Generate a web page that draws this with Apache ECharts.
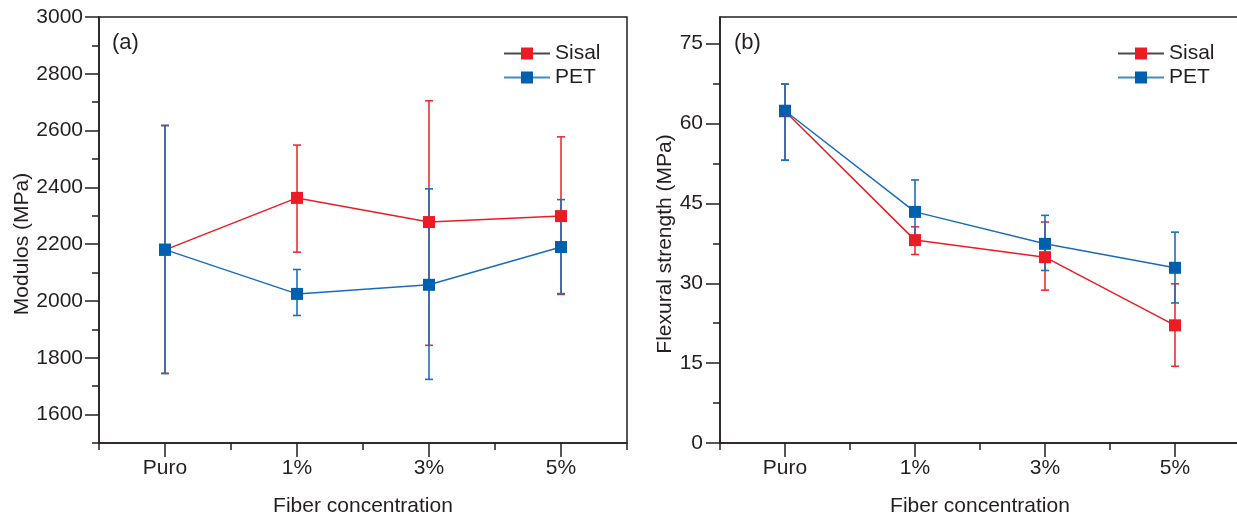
<!DOCTYPE html>
<html>
<head>
<meta charset="utf-8">
<script src="https://cdn.jsdelivr.net/npm/echarts@6/dist/echarts.min.js"></script>
<style>html,body{margin:0;padding:0;background:#fff;}#c{width:1237px;height:515px;}</style>
</head>
<body>
<div id="c"></div>
<script>
// ---- data ----
const categories = ['Puro', '1%', '3%', '5%'];
// (a) Modulus (MPa)
const modSisal = [2180, 2363, 2278, 2299];
const modSisalLow = [1745, 2172, 1844, 2023];
const modSisalHigh = [2618, 2549, 2705, 2578];
const modPet = [2181, 2025, 2057, 2190];
const modPetLow = [1745, 1949, 1724, 2026];
const modPetHigh = [2618, 2111, 2395, 2357];
// (b) Flexural strength (MPa)
const flexSisal = [62.3, 38.1, 34.9, 22.1];
const flexSisalLow = [53.1, 35.4, 28.7, 14.4];
const flexSisalHigh = [67.4, 40.6, 41.5, 29.9];
const flexPet = [62.4, 43.4, 37.4, 32.9];
const flexPetLow = [53.1, 37.4, 32.4, 26.3];
const flexPetHigh = [67.4, 49.4, 42.75, 39.6];
// ticks
const modMajorTicks = [1600, 1800, 2000, 2200, 2400, 2600, 2800, 3000];
const modMinorTicks = [1500, 1600, 1700, 1800, 1900, 2000, 2100, 2200, 2300, 2400, 2500, 2600, 2700, 2800, 2900, 3000];
const flexMajorTicks = [0, 15, 30, 45, 60, 75];
const flexMinorTicks = [0, 7.5, 15, 22.5, 30, 37.5, 45, 52.5, 60, 67.5, 75];

// ---- style ----
const FONT = '"Liberation Sans", Arial, Helvetica, sans-serif';
const INK = '#231f20';
const RED = '#ed1c24';
const RED_ERR = '#ee2d33';
const BLUE = '#0060ae';
const BLUE_LINE = '#1a6cba';
const BLUE_ERR = '#1f6fb8';

function errSeries(name, xi, yi, low, high, color) {
  return {
    type: 'custom', name: name, xAxisIndex: xi, yAxisIndex: yi,
    data: categories.map((c, i) => [i, low[i], high[i]]),
    renderItem: function (params, api) {
      const i = api.value(0);
      const lo = api.coord([i, api.value(1)]);
      const hi = api.coord([i, api.value(2)]);
      const hw = 4;
      const st = { stroke: color, lineWidth: 1.6 };
      return {
        type: 'group',
        children: [
          { type: 'line', shape: { x1: lo[0], y1: lo[1], x2: hi[0], y2: hi[1] }, style: st },
          { type: 'line', shape: { x1: hi[0] - hw, y1: hi[1], x2: hi[0] + hw, y2: hi[1] }, style: st },
          { type: 'line', shape: { x1: lo[0] - hw, y1: lo[1], x2: lo[0] + hw, y2: lo[1] }, style: st }
        ]
      };
    },
    silent: true
  };
}

function lineSeries(name, xi, yi, vals, color, lineColor) {
  return {
    type: 'line', name: name, xAxisIndex: xi, yAxisIndex: yi,
    data: vals, symbol: 'rect', symbolSize: 12,
    itemStyle: { color: color },
    lineStyle: { color: lineColor, width: 1.5 },
    emphasis: { disabled: true }, animation: false
  };
}

function catAxes(gi) {
  return [
    { type: 'category', gridIndex: gi, data: categories, boundaryGap: true, position: 'bottom',
      axisLine: { show: true, onZero: false, lineStyle: { color: INK, width: 1.5 } },
      axisTick: { show: true, length: 7, lineStyle: { color: INK, width: 1.5 } },
      axisLabel: { show: false }, splitLine: { show: false } },
    { type: 'category', gridIndex: gi, data: categories, boundaryGap: true, position: 'bottom',
      axisLine: { show: false, onZero: false },
      axisTick: { show: true, alignWithLabel: true, length: 14, lineStyle: { color: INK, width: 1.5 } },
      axisLabel: { show: true, margin: 15, fontSize: 21, color: INK, fontFamily: FONT },
      name: 'Fiber concentration', nameLocation: 'middle', nameGap: 53,
      nameTextStyle: { fontSize: 21, color: INK, fontFamily: FONT },
      splitLine: { show: false } }
  ];
}

function valAxes(gi, min, max, minor, major, name, nameGap, labelMargin) {
  return [
    { type: 'value', gridIndex: gi, min: min, max: max, position: 'left',
      axisLine: { show: true, onZero: false, lineStyle: { color: INK, width: 1.5 } },
      axisTick: { show: true, length: 7, customValues: minor, lineStyle: { color: INK, width: 1.5 } },
      axisLabel: { show: false }, splitLine: { show: false } },
    { type: 'value', gridIndex: gi, min: min, max: max, position: 'left',
      axisLine: { show: false, onZero: false },
      axisTick: { show: true, length: 14, customValues: major, lineStyle: { color: INK, width: 1.5 } },
      axisLabel: { show: true, customValues: major, margin: labelMargin, fontSize: 21, color: INK, fontFamily: FONT,
        formatter: function (v) { return String(v); } },
      name: name, nameLocation: 'middle', nameGap: nameGap,
      nameTextStyle: { fontSize: 21, color: INK, fontFamily: FONT, padding: [0, 28, 0, 0] },
      splitLine: { show: false } }
  ];
}

function legendFor(left, top) {
  return {
    left: left, top: top, orient: 'vertical', itemWidth: 46, itemHeight: 15, itemGap: 3,
    padding: 0, selectedMode: false,
    textStyle: { fontSize: 21, color: INK, fontFamily: FONT },
    data: [
      { name: 'Sisal', lineStyle: { color: '#4a4a4a' } },
      { name: 'PET', lineStyle: { color: '#3d8ccc' } }
    ]
  };
}

const chart = echarts.init(document.getElementById('c'), null, { renderer: 'canvas' });
chart.setOption({
  animation: false,
  backgroundColor: '#fff',
  textStyle: { fontFamily: FONT },
  title: [
    { text: '(a)', left: 112, top: 32, padding: 0, textStyle: { fontSize: 22, fontWeight: 'normal', color: INK, fontFamily: FONT } },
    { text: '(b)', left: 734, top: 32, padding: 0, textStyle: { fontSize: 22, fontWeight: 'normal', color: INK, fontFamily: FONT } }
  ],
  grid: [
    { left: 99, top: 17, width: 528, height: 426, outerBoundsMode: 'none', containLabel: false,
      show: true, borderColor: INK, borderWidth: 1.5, backgroundColor: 'transparent' },
    { left: 720, top: 17, width: 520, height: 426, outerBoundsMode: 'none', containLabel: false,
      show: true, borderColor: INK, borderWidth: 1.5, backgroundColor: 'transparent' }
  ],
  legend: [
    Object.assign(legendFor(503, 43), { id: 'la' }),
    Object.assign(legendFor(1117, 43), { id: 'lb' })
  ],
  xAxis: catAxes(0).concat(catAxes(1)),
  yAxis: valAxes(0, 1500, 3000, modMinorTicks, modMajorTicks, 'Modulos (MPa)', 66, 16)
    .concat(valAxes(1, 0, 80, flexMinorTicks, flexMajorTicks, 'Flexural strength (MPa)', 44, 17)),
  series: [
    lineSeries('Sisal', 0, 0, modSisal, RED, RED),
    errSeries('Sisal err a', 0, 0, modSisalLow, modSisalHigh, RED_ERR),
    lineSeries('PET', 0, 0, modPet, BLUE, BLUE_LINE),
    errSeries('PET err a', 0, 0, modPetLow, modPetHigh, BLUE_ERR),
    lineSeries('Sisal', 2, 2, flexSisal, RED, RED),
    errSeries('Sisal err b', 2, 2, flexSisalLow, flexSisalHigh, RED_ERR),
    lineSeries('PET', 2, 2, flexPet, BLUE, BLUE_LINE),
    errSeries('PET err b', 2, 2, flexPetLow, flexPetHigh, BLUE_ERR)
  ]
});
</script>
</body>
</html>
